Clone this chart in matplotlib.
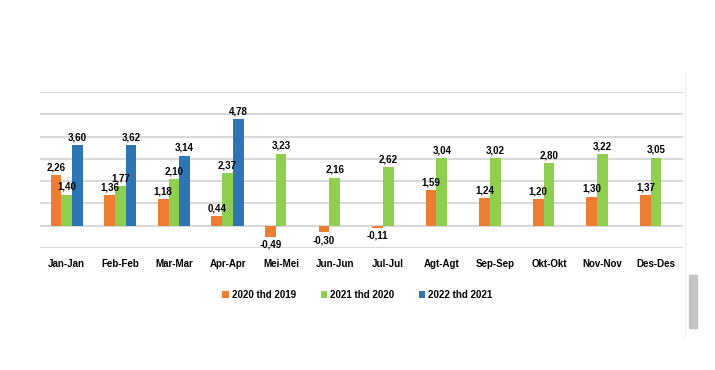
import matplotlib
matplotlib.use("Agg")
import matplotlib.pyplot as plt
from matplotlib.patches import FancyBboxPatch
import numpy as np

# data
bulan = ["Jan-Jan", "Feb-Feb", "Mar-Mar", "Apr-Apr", "Mei-Mei", "Jun-Jun",
         "Jul-Jul", "Agt-Agt", "Sep-Sep", "Okt-Okt", "Nov-Nov", "Des-Des"]
inf_2020 = [2.26, 1.36, 1.18, 0.44, -0.49, -0.30, -0.11, 1.59, 1.24, 1.20, 1.30, 1.37]
inf_2021 = [1.40, 1.77, 2.10, 2.37, 3.23, 2.16, 2.62, 3.04, 3.02, 2.80, 3.22, 3.05]
inf_2022 = [3.60, 3.62, 3.14, 4.78, None, None, None, None, None, None, None, None]

seri = [
    ("2020 thd 2019", inf_2020, "#ED7D31", -0.2),
    ("2021 thd 2020", inf_2021, "#8FCF4F", 0.0),
    ("2022 thd 2021", inf_2022, "#2E75B6", 0.2),
]

plt.rcParams["font.family"] = ["Liberation Sans", "DejaVu Sans"]

fig = plt.figure(figsize=(7.15, 3.7), dpi=100)
ax = fig.add_axes([0.056, 0.3297, 0.899, 0.4217])

x = np.arange(len(bulan))
for nama, nilai, warna, geser in seri:
    xs = [x[i] + geser for i, v in enumerate(nilai) if v is not None]
    ys = [v for v in nilai if v is not None]
    bars = ax.bar(xs, ys, width=0.2, color=warna, label=nama, zorder=3)
    for b, v in zip(bars, ys):
        teks = f"{v:.2f}".replace(".", ",")
        if v >= 0:
            ax.annotate(teks, (b.get_x() + b.get_width() / 2, v), xytext=(0, 2),
                        textcoords="offset points", ha="center", va="bottom",
                        fontsize=7, fontweight="bold", zorder=4)
        else:
            ax.annotate(teks, (b.get_x() + b.get_width() / 2, v), xytext=(0, -2),
                        textcoords="offset points", ha="center", va="top",
                        fontsize=7, fontweight="bold", zorder=4)

ax.set_xlim(-0.5, len(bulan) - 0.5)
ax.set_ylim(-1, 6)
ax.set_yticks(range(-1, 7))
ax.set_yticklabels([])
ax.set_xticks(x)
ax.set_xticklabels(bulan, fontsize=7, fontweight="bold")
ax.tick_params(axis="both", length=0)
ax.tick_params(axis="x", pad=8)
ax.grid(axis="y", color="#d9d9d9", linewidth=1.5, zorder=0)
for s in ax.spines.values():
    s.set_visible(False)

fig.legend(loc="center", bbox_to_anchor=(0.5, 0.203), ncol=3, frameon=False,
           prop={"size": 7, "weight": "bold"}, handlelength=0.7, handleheight=0.7,
           handletextpad=0.3, columnspacing=2.5)

# garis tepi kanan dan scrollbar dari tangkapan layar
fig.add_artist(plt.Line2D([685 / 715, 685 / 715], [1 - 72 / 370, 1 - 337 / 370],
                          color="#eeeeee", linewidth=1, transform=fig.transFigure))
fig.add_artist(FancyBboxPatch((691 / 715, 1 - 328 / 370), 5 / 715, 52 / 370,
                              boxstyle="round,pad=0.002", color="#c4c4c4",
                              transform=fig.transFigure))

fig.savefig("out.png", dpi=100, facecolor="white")
